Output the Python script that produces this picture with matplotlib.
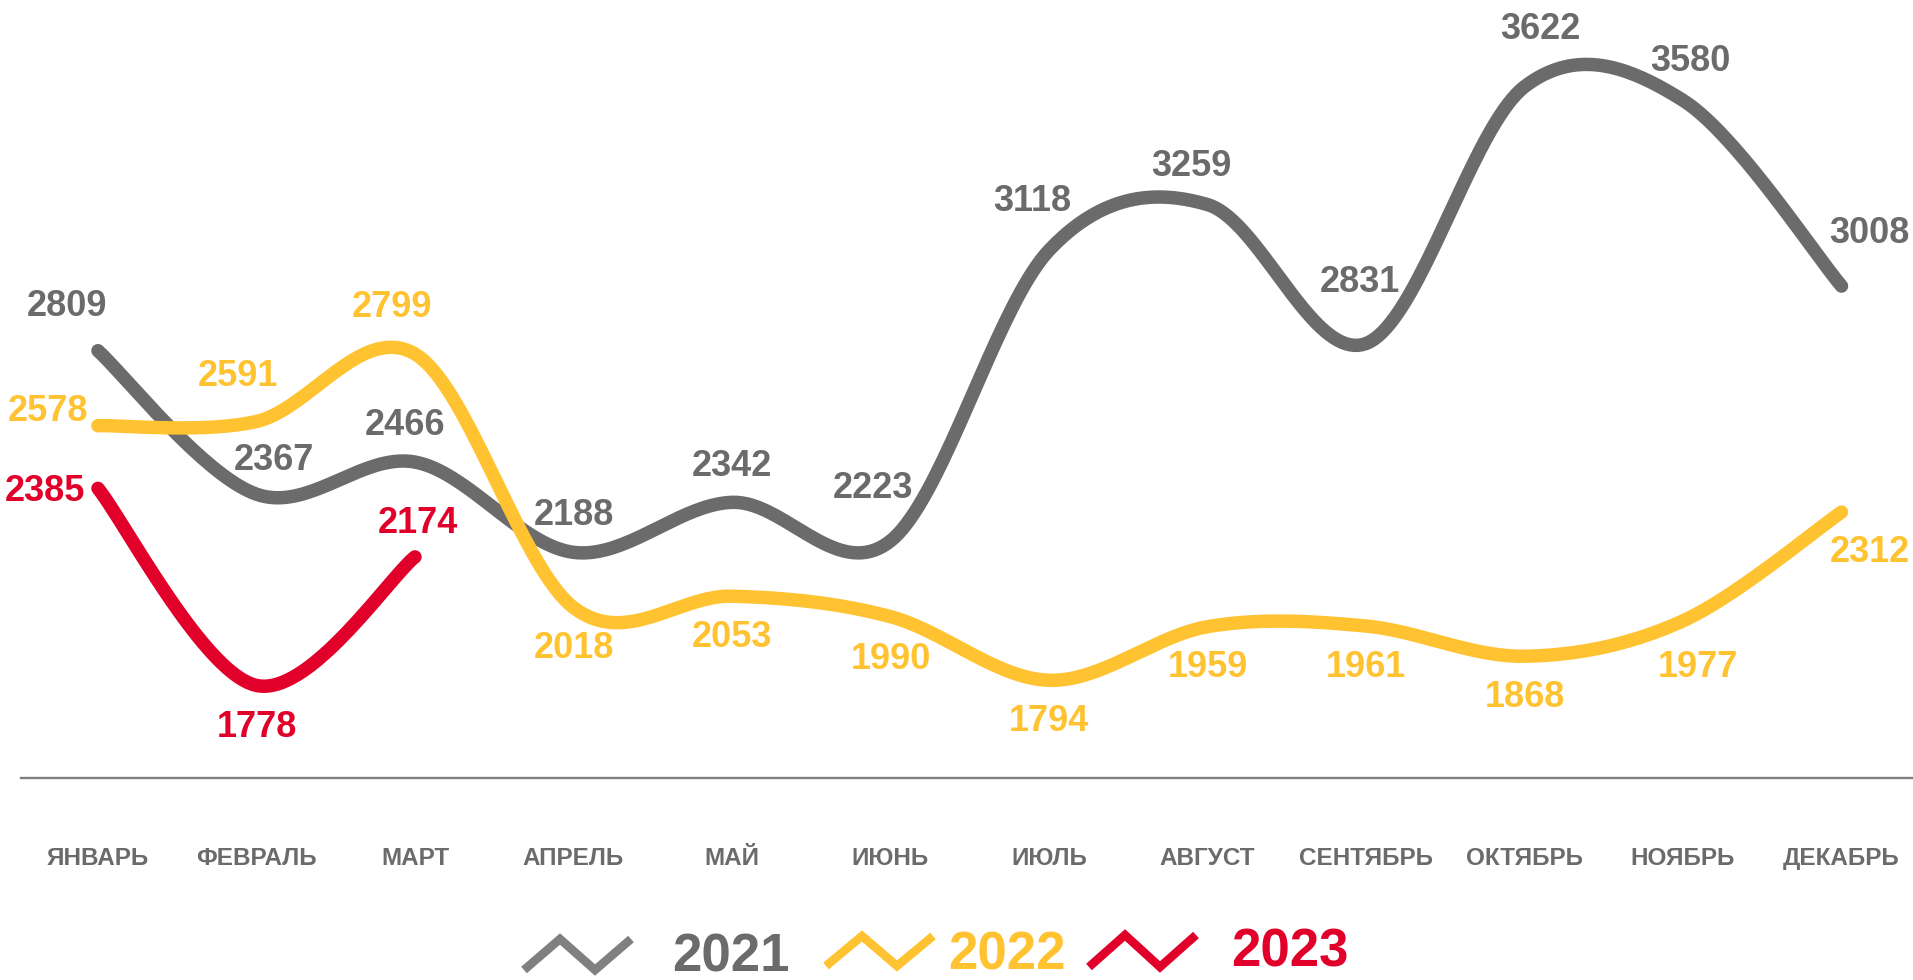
import numpy as np
import matplotlib
matplotlib.use("Agg")
import matplotlib.pyplot as plt
from matplotlib.lines import Line2D

# ---------------- data ----------------
months = ["ЯНВАРЬ", "ФЕВРАЛЬ", "МАРТ", "АПРЕЛЬ", "МАЙ", "ИЮНЬ",
          "ИЮЛЬ", "АВГУСТ", "СЕНТЯБРЬ", "ОКТЯБРЬ", "НОЯБРЬ", "ДЕКАБРЬ"]
years = ["2021", "2022", "2023"]
v2021 = [2809, 2367, 2466, 2188, 2342, 2223, 3118, 3259, 2831, 3622, 3580, 3008]
v2022 = [2578, 2591, 2799, 2018, 2053, 1990, 1794, 1959, 1961, 1868, 1977, 2312]
v2023 = [2385, 1778, 2174]

# ---------------- styles ----------------
C_GRAY = "#6b6b6b"
C_GRAY_ICON = "#808080"
C_YEL = "#ffc331"
C_RED = "#e1002a"
C_AXIS = "#7f7f7f"
FONT = ["Liberation Sans", "Arial", "DejaVu Sans"]

# label offsets (pixels: dx, dy-up) per series
off2021 = [(-31, 44), (17, 34), (-10, 37), (0, 37), (0, 36), (-18, 52),
           (-17, 49), (-16, 38), (-6, 61), (16, 57), (7, 39), (28, 53)]
off2022 = [(-50, 14), (-19, 45), (-23, 46), (0, -41), (0, -41), (0, -43),
           (0, -41), (0, -41), (0, -41), (0, -41), (15, -47), (28, -40)]
off2023 = [(-53, -3), (0, -42), (3, 33)]

W, H = 1913, 980
fig = plt.figure(figsize=(W / 100, H / 100), dpi=100)
plt.rcParams['font.family'] = FONT

ax = fig.add_axes([0, (H - 778) / H, 1, 778 / H])
ax.set_xlim(-0.618, 11.451)
ax.set_ylim(1493, 3889)
ax.patch.set_alpha(0)


def smooth(xs, ys, n=40):
    P = np.column_stack([xs, ys]).astype(float)
    m = len(P)
    out = []
    t = np.linspace(0, 1, n)[:, None]
    for i in range(m - 1):
        p0 = P[max(i - 1, 0)]
        p1 = P[i]
        p2 = P[i + 1]
        p3 = P[min(i + 2, m - 1)]
        c1 = p1 + (p2 - p0) / 6.0
        c2 = p2 - (p3 - p1) / 6.0
        seg = ((1 - t) ** 3) * p1 + 3 * ((1 - t) ** 2) * t * c1 \
            + 3 * (1 - t) * (t ** 2) * c2 + (t ** 3) * p2
        out.append(seg if i == 0 else seg[1:])
    return np.vstack(out)


series = [(v2021, C_GRAY, off2021), (v2022, C_YEL, off2022), (v2023, C_RED, off2023)]
for vals, col, offs in series:
    xs = np.arange(len(vals))
    curve = smooth(xs, vals)
    ax.plot(curve[:, 0], curve[:, 1], color=col, lw=9.7,
            solid_capstyle='round', solid_joinstyle='round', zorder=2)
    for x, v, (dx, dy) in zip(xs, vals, offs):
        ax.annotate(str(v), (x, v), xytext=(dx, dy), textcoords='offset pixels',
                    ha='center', va='center', fontsize=26, fontweight='bold',
                    color=col, zorder=3, annotation_clip=False)

# axis
for s in ['top', 'right', 'left']:
    ax.spines[s].set_visible(False)
ax.spines['bottom'].set_color(C_AXIS)
ax.spines['bottom'].set_linewidth(1.7)
ax.spines['bottom'].set_bounds(-0.486, 11.451)
ax.set_yticks([])
ax.set_xticks(range(len(months)))
ax.set_xticklabels(months, fontsize=17.5, fontweight='bold', color=C_GRAY)
ax.tick_params(axis='x', length=0, pad=50)

# legend (drawn in pixel overlay)
lax = fig.add_axes([0, 0, 1, 1])
lax.set_xlim(0, W)
lax.set_ylim(H, 0)
lax.axis('off')
icon_cols = [C_GRAY_ICON, C_YEL, C_RED]
text_cols = [C_GRAY, C_YEL, C_RED]
icon_x0 = [520, 822, 1085]
icon_top = [939, 936, 935]
icon_bot = [970, 966, 967]
text_x = [731, 1007, 1290]
text_base = [971, 969, 966]
for yr, ic, tc, x0, yt, yb, tx, tb in zip(years, icon_cols, text_cols, icon_x0,
                                          icon_top, icon_bot, text_x, text_base):
    lax.add_line(Line2D([x0 + 4, x0 + 40, x0 + 75, x0 + 111], [yb, yt, yb, yt],
                        color=ic, lw=6.2, solid_joinstyle='miter',
                        solid_capstyle='butt'))
    lax.text(tx, tb, yr, ha='center', va='baseline', fontsize=38,
             fontweight='bold', color=tc)

fig.savefig("out.png", dpi=100)
